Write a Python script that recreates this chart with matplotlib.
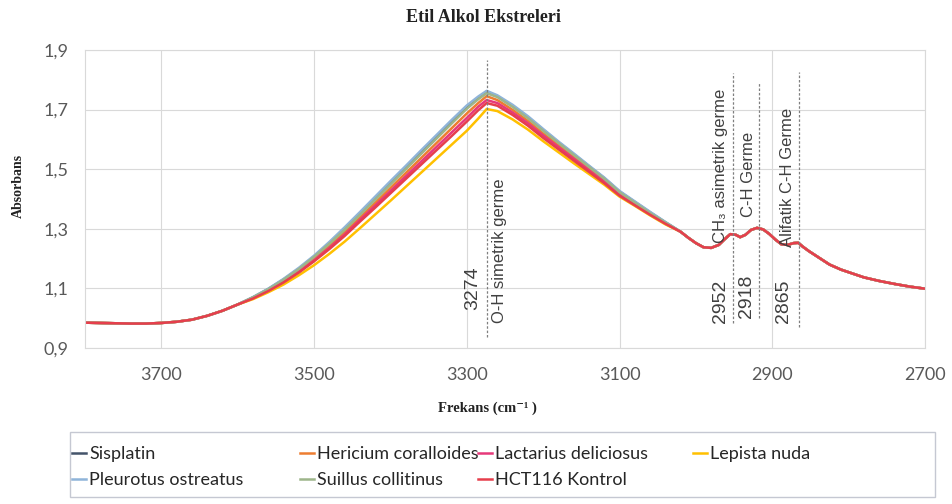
import matplotlib
matplotlib.use("Agg")
import matplotlib.pyplot as plt
from matplotlib.patches import Rectangle

# Wavenumber (cm-1) grid: flat high-frequency tail shared by all extracts
wn_left = [3800, 3780, 3760, 3740, 3720, 3700, 3680, 3660, 3640, 3620, 3600]
abs_left = [0.985, 0.984, 0.983, 0.982, 0.982, 0.984, 0.988, 0.995, 1.008, 1.025, 1.046]

# O-H band region, where the extracts separate
wn_mid = [3580, 3560, 3540, 3520, 3500, 3480, 3460, 3440, 3420, 3400, 3380, 3360,
          3340, 3320, 3300, 3285, 3274, 3260, 3240, 3220, 3200, 3180, 3160, 3140,
          3120, 3100, 3080, 3060, 3040]

sisplatin = [1.070, 1.098, 1.130, 1.166, 1.207, 1.252, 1.300, 1.351, 1.402, 1.454,
             1.505, 1.557, 1.608, 1.659, 1.709, 1.740, 1.760, 1.745, 1.712, 1.674,
             1.632, 1.590, 1.550, 1.510, 1.470, 1.425, 1.390, 1.355, 1.322]
hericium = [1.068, 1.094, 1.125, 1.160, 1.199, 1.242, 1.288, 1.338, 1.387, 1.437,
            1.487, 1.537, 1.587, 1.637, 1.687, 1.722, 1.745, 1.732, 1.699, 1.662,
            1.620, 1.580, 1.540, 1.501, 1.462, 1.419, 1.385, 1.351, 1.319]
lactarius = [1.067, 1.092, 1.122, 1.156, 1.194, 1.236, 1.281, 1.330, 1.378, 1.427,
             1.476, 1.525, 1.574, 1.623, 1.672, 1.710, 1.732, 1.722, 1.690, 1.654,
             1.613, 1.574, 1.535, 1.496, 1.458, 1.415, 1.382, 1.349, 1.318]
lepista = [1.064, 1.087, 1.113, 1.144, 1.178, 1.216, 1.257, 1.302, 1.348, 1.394,
           1.441, 1.488, 1.535, 1.582, 1.629, 1.670, 1.702, 1.695, 1.667, 1.633,
           1.594, 1.557, 1.520, 1.484, 1.448, 1.408, 1.377, 1.345, 1.315]
pleurotus = [1.071, 1.099, 1.132, 1.169, 1.210, 1.256, 1.305, 1.356, 1.408, 1.460,
             1.511, 1.563, 1.614, 1.665, 1.714, 1.744, 1.763, 1.748, 1.716, 1.678,
             1.635, 1.593, 1.553, 1.512, 1.472, 1.427, 1.392, 1.357, 1.323]
suillus = [1.070, 1.097, 1.129, 1.165, 1.206, 1.250, 1.297, 1.347, 1.398, 1.449,
           1.500, 1.551, 1.602, 1.653, 1.703, 1.735, 1.755, 1.742, 1.709, 1.671,
           1.629, 1.588, 1.548, 1.508, 1.468, 1.423, 1.388, 1.353, 1.321]
hct116 = [1.066, 1.091, 1.120, 1.153, 1.191, 1.232, 1.276, 1.324, 1.371, 1.419,
          1.467, 1.515, 1.563, 1.611, 1.660, 1.698, 1.722, 1.713, 1.682, 1.646,
          1.605, 1.567, 1.529, 1.491, 1.453, 1.411, 1.379, 1.347, 1.317]

# C-H stretching region, common to all extracts
wn_right = [3020, 3010, 3000, 2990, 2980, 2970, 2962, 2955, 2948, 2942, 2935, 2928,
            2920, 2912, 2904, 2896, 2888, 2880, 2872, 2866, 2860, 2852, 2840, 2825,
            2810, 2795, 2780, 2760, 2740, 2720, 2700]
abs_right = [1.290, 1.270, 1.252, 1.238, 1.236, 1.246, 1.266, 1.282, 1.280, 1.272,
             1.280, 1.296, 1.303, 1.298, 1.283, 1.264, 1.248, 1.246, 1.252, 1.253,
             1.240, 1.225, 1.205, 1.180, 1.163, 1.150, 1.137, 1.125, 1.115, 1.106,
             1.099]

series_names = ["Sisplatin", "Hericium coralloides", "Lactarius deliciosus",
                "Lepista nuda", "Pleurotus ostreatus", "Suillus collitinus",
                "HCT116 Kontrol"]
series_mid = [sisplatin, hericium, lactarius, lepista, pleurotus, suillus, hct116]
series_colors = ["#44546a", "#ed7d31", "#e6397a", "#ffc000", "#8fb4d9", "#9db58a",
                 "#e63e4c"]

# Band assignments
band_wn = [3274, 2952, 2918, 2865]
band_labels = ["O-H simetrik germe", "CH\u2083 asimetrik germe", "C-H Germe",
               "Alifatik C-H Germe"]

x_ticks = [3700, 3500, 3300, 3100, 2900, 2700]
y_ticks = [0.9, 1.1, 1.3, 1.5, 1.7, 1.9]

W, H = 952, 504
fig = plt.figure(figsize=(W / 100, H / 100), dpi=100)
ax = fig.add_axes([85 / W, 1 - 348 / H, 840 / W, 298 / H])

lines = []
for name, mid, col in zip(series_names, series_mid, series_colors):
    ln, = ax.plot(wn_left + wn_mid + wn_right, abs_left + mid + abs_right,
                  color=col, lw=1.8, solid_joinstyle="round", label=name)
    lines.append(ln)

ax.set_xlim(3800, 2700)
ax.set_ylim(0.9, 1.9)
ax.set_xticks(x_ticks)
ax.set_yticks(y_ticks)
ax.set_yticklabels([f"{v:.1f}".replace(".", ",") for v in y_ticks])
ax.grid(True, color="#d9d9d9", lw=0.8)
ax.set_axisbelow(True)
for s in ax.spines.values():
    s.set_color("#d9d9d9")
    s.set_linewidth(0.8)
ax.tick_params(length=0, labelsize=13, labelcolor="#595959")
ax.tick_params(axis="x", pad=14)
ax.tick_params(axis="y", pad=12)
for lab in ax.get_xticklabels() + ax.get_yticklabels():
    lab.set_family("Lato")

# Band markers: dotted vertical lines with wavenumber and assignment
line_top = [1.866, 1.823, 1.793, 1.826]
line_bot = [0.937, 0.984, 1.0, 0.97]
num_bottom = [1.028, 0.984, 1.0, 0.984]
num_dx = [-10, -9, -8.5, -11]
lab_bottom = [0.984, 1.252, 1.34, 1.239]
lab_dx = [9, -9, -7, -8]
for wn, lab, t, b, nb, ndx, lb, ldx in zip(band_wn, band_labels, line_top, line_bot,
                                            num_bottom, num_dx, lab_bottom, lab_dx):
    ax.vlines(wn, b, t, colors="#7f7f7f", lw=0.9, linestyles=(0, (2, 1.5)), zorder=3)
    ax.annotate(str(wn), xy=(wn, nb), xytext=(ndx, 0), textcoords="offset points",
                rotation=90, ha="center", va="bottom", fontsize=14,
                color="#404040", family=["Liberation Sans", "DejaVu Sans"])
    ax.annotate(lab, xy=(wn, lb), xytext=(ldx, 0), textcoords="offset points",
                rotation=90, ha="center", va="bottom", fontsize=12,
                color="#404040", family=["Liberation Sans", "DejaVu Sans"])

fig.text(483 / W, 1 - 18 / H, "Etil Alkol Ekstreleri", ha="center", va="center",
         fontsize=13, fontweight="bold", family="Liberation Serif", color="#222222")
fig.text(18 / W, 1 - 186 / H, "Absorbans", ha="center", va="center", rotation=90,
         fontsize=10, fontweight="bold", family="Liberation Serif", color="#222222")
fig.text(487 / W, 1 - 408 / H, "Frekans (cm\u207b\u00b9 )", ha="center", va="center",
         fontsize=10.5, fontweight="bold", family=["Liberation Serif", "DejaVu Serif"],
         color="#222222")

# Legend frame and its four columns of entries
fig.patches.append(Rectangle((70 / W, 1 - 497 / H), 865 / W, 65 / H,
                             transform=fig.transFigure, fill=False,
                             edgecolor="#c5c8d2", lw=1.0))
columns = [[0, 4], [1, 5], [2, 6], [3]]
col_x = [72, 300, 478, 693]
for idx, x0 in zip(columns, col_x):
    leg = fig.legend([lines[i] for i in idx], [series_names[i] for i in idx],
                     loc="upper left", bbox_to_anchor=(x0 / W, 1 - 446 / H),
                     ncol=1, frameon=False, handlelength=0.8, handletextpad=0.15,
                     labelspacing=0.57, borderaxespad=0, borderpad=0,
                     prop={"family": "Lato", "size": 13})
    for t in leg.get_texts():
        t.set_color("#262626")

fig.savefig("out.png", dpi=100)
